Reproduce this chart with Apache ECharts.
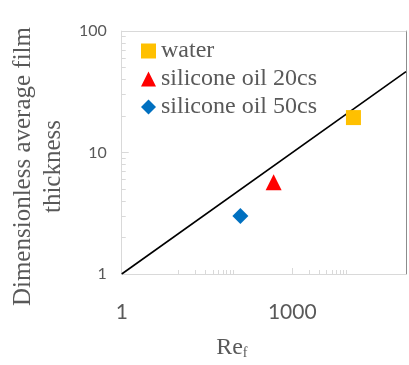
<!DOCTYPE html>
<html>
<head>
<meta charset="utf-8">
<script src="https://cdn.jsdelivr.net/npm/echarts@6/dist/echarts.min.js"></script>
<style>html,body{margin:0;padding:0;background:#fff;}#c{width:409px;height:365px;}</style>
</head>
<body>
<div id="c"></div>
<script>
// Data
var seriesNames = ['water', 'silicone oil 20cs', 'silicone oil 50cs'];
var waterData = [[11900, 19.4]];
var oil20Data = [[470, 5.7]];
var oil50Data = [[122, 3.0]];
var fitLine = [[1, 1], [100000, 46.4]];
var xTickLabels = [1, 1000];
var xMinorTicks = [10, 20, 30, 40, 50, 60, 70, 80, 90, 2000, 3000, 4000, 5000, 6000, 7000, 8000, 9000];
var yTickLabels = [1, 10, 100];
var yMinorTicks = [2, 3, 4, 5, 6, 7, 8, 9, 20, 30, 40, 50, 60, 70, 80, 90];

var chart = echarts.init(document.getElementById('c'));
var gray = '#595959';
var serif = '"Liberation Serif", "DejaVu Serif", serif';
var sans = 'Lato, "Open Sans", sans-serif';
function plain(v) { return String(Math.round(v)); }

chart.setOption({
  animation: false,
  backgroundColor: '#fff',
  grid: { left: 121, right: 3, top: 21, bottom: 83, containLabel: false },
  legend: {
    orient: 'vertical', left: 136, top: 34,
    itemWidth: 15, itemHeight: 15, itemGap: 4,
    data: seriesNames,
    textStyle: { fontFamily: serif, fontSize: 24, color: gray, lineHeight: 24 }
  },
  xAxis: [
    {
      type: 'log', logBase: 1000, min: 1, max: 100000, position: 'bottom',
      name: '{a|Re}{b|f}', nameLocation: 'middle', nameGap: 62,
      nameTextStyle: {
        padding: [0, 64, 0, 0],
        rich: {
          a: { fontFamily: serif, fontSize: 24, color: gray, lineHeight: 24, verticalAlign: 'top' },
          b: { fontFamily: serif, fontSize: 14, color: gray, lineHeight: 14, padding: [14, 0, 0, 0], verticalAlign: 'bottom' }
        }
      },
      axisLine: { show: true, lineStyle: { color: '#d9d9d9', width: 1 } },
      axisTick: { show: true, inside: true, length: 6, customValues: xTickLabels, lineStyle: { color: '#d9d9d9' } },
      axisLabel: { customValues: xTickLabels, formatter: plain, fontFamily: sans, fontSize: 21, color: gray, margin: 28 },
      splitLine: { show: false }, minorTick: { show: false }
    },
    {
      type: 'log', logBase: 1000, min: 1, max: 100000, position: 'bottom',
      axisLine: { show: false },
      axisTick: { show: true, inside: true, length: 4, customValues: xMinorTicks, lineStyle: { color: '#d9d9d9' } },
      axisLabel: { show: false }, splitLine: { show: false }
    },
    {
      type: 'log', logBase: 1000, min: 1, max: 100000, position: 'top',
      axisLine: { show: true, lineStyle: { color: '#d9d9d9', width: 1 } },
      axisTick: { show: false }, axisLabel: { show: false }, splitLine: { show: false }
    }
  ],
  yAxis: [
    {
      type: 'log', logBase: 10, min: 1, max: 100, position: 'left',
      name: 'Dimensionless average film\nthickness', nameLocation: 'middle', nameGap: 43,
      nameTextStyle: { fontFamily: serif, fontSize: 25, color: gray, lineHeight: 30, padding: [0, 28, 0, 0] },
      axisLine: { show: true, lineStyle: { color: '#d9d9d9', width: 1 } },
      axisTick: { show: true, inside: true, length: 7, customValues: yTickLabels, lineStyle: { color: '#d9d9d9' } },
      axisLabel: { customValues: yTickLabels, formatter: plain, fontFamily: sans, fontSize: 16, color: gray, margin: 15 },
      splitLine: { show: false }, minorTick: { show: false }
    },
    {
      type: 'log', logBase: 10, min: 1, max: 100, position: 'left',
      axisLine: { show: false },
      axisTick: { show: true, inside: true, length: 4, customValues: yMinorTicks, lineStyle: { color: '#d9d9d9' } },
      axisLabel: { show: false }, splitLine: { show: false }
    },
    {
      type: 'log', logBase: 10, min: 1, max: 100, position: 'right',
      axisLine: { show: true, lineStyle: { color: '#8c8c8c', width: 1 } },
      axisTick: { show: false }, axisLabel: { show: false }, splitLine: { show: false }
    }
  ],
  series: [
    {
      name: 'fit', type: 'line', data: fitLine, showSymbol: false, symbol: 'none',
      lineStyle: { color: '#000', width: 1.6 }, z: 1
    },
    {
      name: seriesNames[0], type: 'scatter', data: waterData, symbol: 'rect', symbolSize: 15,
      itemStyle: { color: '#FFC000', opacity: 1 }, z: 3
    },
    {
      name: seriesNames[1], type: 'scatter', data: oil20Data, symbol: 'triangle', symbolSize: 16,
      itemStyle: { color: '#FF0000', opacity: 1 }, z: 3
    },
    {
      name: seriesNames[2], type: 'scatter', data: oil50Data, symbol: 'diamond', symbolSize: 16,
      itemStyle: { color: '#0070C0', opacity: 1 }, z: 3
    }
  ]
});
</script>
</body>
</html>
